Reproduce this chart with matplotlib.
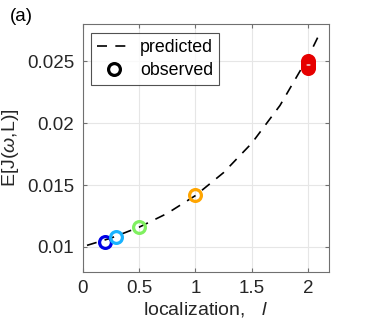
import matplotlib
matplotlib.use("Agg")
import matplotlib.pyplot as plt

plt.rcParams['font.family'] = ['Liberation Sans', 'DejaVu Sans']
plt.rcParams['mathtext.fontset'] = 'custom'
plt.rcParams['mathtext.rm'] = 'Liberation Sans'
plt.rcParams['mathtext.it'] = 'Liberation Sans:italic'

# predicted curve
pred_x = [0.04, 0.25, 0.5, 0.75, 1.0, 1.25, 1.5, 1.75, 2.0, 2.1]
pred_y = [0.01013, 0.01071, 0.01159, 0.01271, 0.01415, 0.01601, 0.01839, 0.02144, 0.02536, 0.02723]

# observed points
obs_x = [0.2, 0.3, 0.5, 1.0, 2.0, 2.0, 2.0, 2.0, 2.0]
obs_y = [0.01043, 0.01084, 0.0116, 0.01422, 0.0245, 0.02462, 0.02475, 0.02488, 0.0250]
obs_colors = ['#0000e6', '#19b3ff', '#80f060', '#ffa500',
              '#e60000', '#e60000', '#e60000', '#e60000', '#e60000']

xticks = [0, 0.5, 1, 1.5, 2]
xtick_labels = ['0', '0.5', '1', '1.5', '2']
yticks = [0.01, 0.015, 0.02, 0.025]
ytick_labels = ['0.01', '0.015', '0.02', '0.025']

fig = plt.figure(figsize=(3.74, 3.29), dpi=100)
ax = fig.add_axes([0.2206, 0.1742, 0.6578, 0.7519])

ax.plot(pred_x, pred_y, linestyle=(0, (6, 5)), color='black', linewidth=1.2, label='predicted', zorder=2)
for x, y, c in zip(obs_x, obs_y, obs_colors):
    ax.plot([x], [y], 'o', markersize=8.5, markerfacecolor='none', markeredgecolor=c,
            markeredgewidth=2.3, zorder=3)
ax.plot([], [], 'o', markersize=8.5, markerfacecolor='none', markeredgecolor='black',
        markeredgewidth=2.3, label='observed')

ax.set_xlim(0, 2.18)
ax.set_ylim(0.008, 0.028)
ax.set_xticks(xticks)
ax.set_xticklabels(xtick_labels)
ax.set_yticks(yticks)
ax.set_yticklabels(ytick_labels)
ax.grid(True, color='#e6e6e6', linewidth=0.8)
ax.set_axisbelow(True)
for s in ax.spines.values():
    s.set_color('#707070')
    s.set_linewidth(0.8)
ax.tick_params(direction='in', length=3, color='#707070', labelsize=13.5, labelcolor='#262626',
               top=True, right=True, pad=6)

ax.set_xlabel(r'localization,   $\it{l}$', fontsize=14, color='#262626', labelpad=2)
ax.set_ylabel(r'E[J($\it{\omega}$,L)]', fontsize=14, color='#262626', labelpad=4)

leg = ax.legend(loc='upper left', fontsize=12.8, frameon=True, fancybox=False,
                edgecolor='#262626', handlelength=1.9, borderpad=0.35, labelspacing=0.3,
                handletextpad=0.5, borderaxespad=0, bbox_to_anchor=(0.034, 0.964))
leg.get_frame().set_linewidth(0.8)

fig.text(0.027, 0.935, '(a)', fontsize=13.5, color='black')

fig.savefig('out.png', dpi=100)
